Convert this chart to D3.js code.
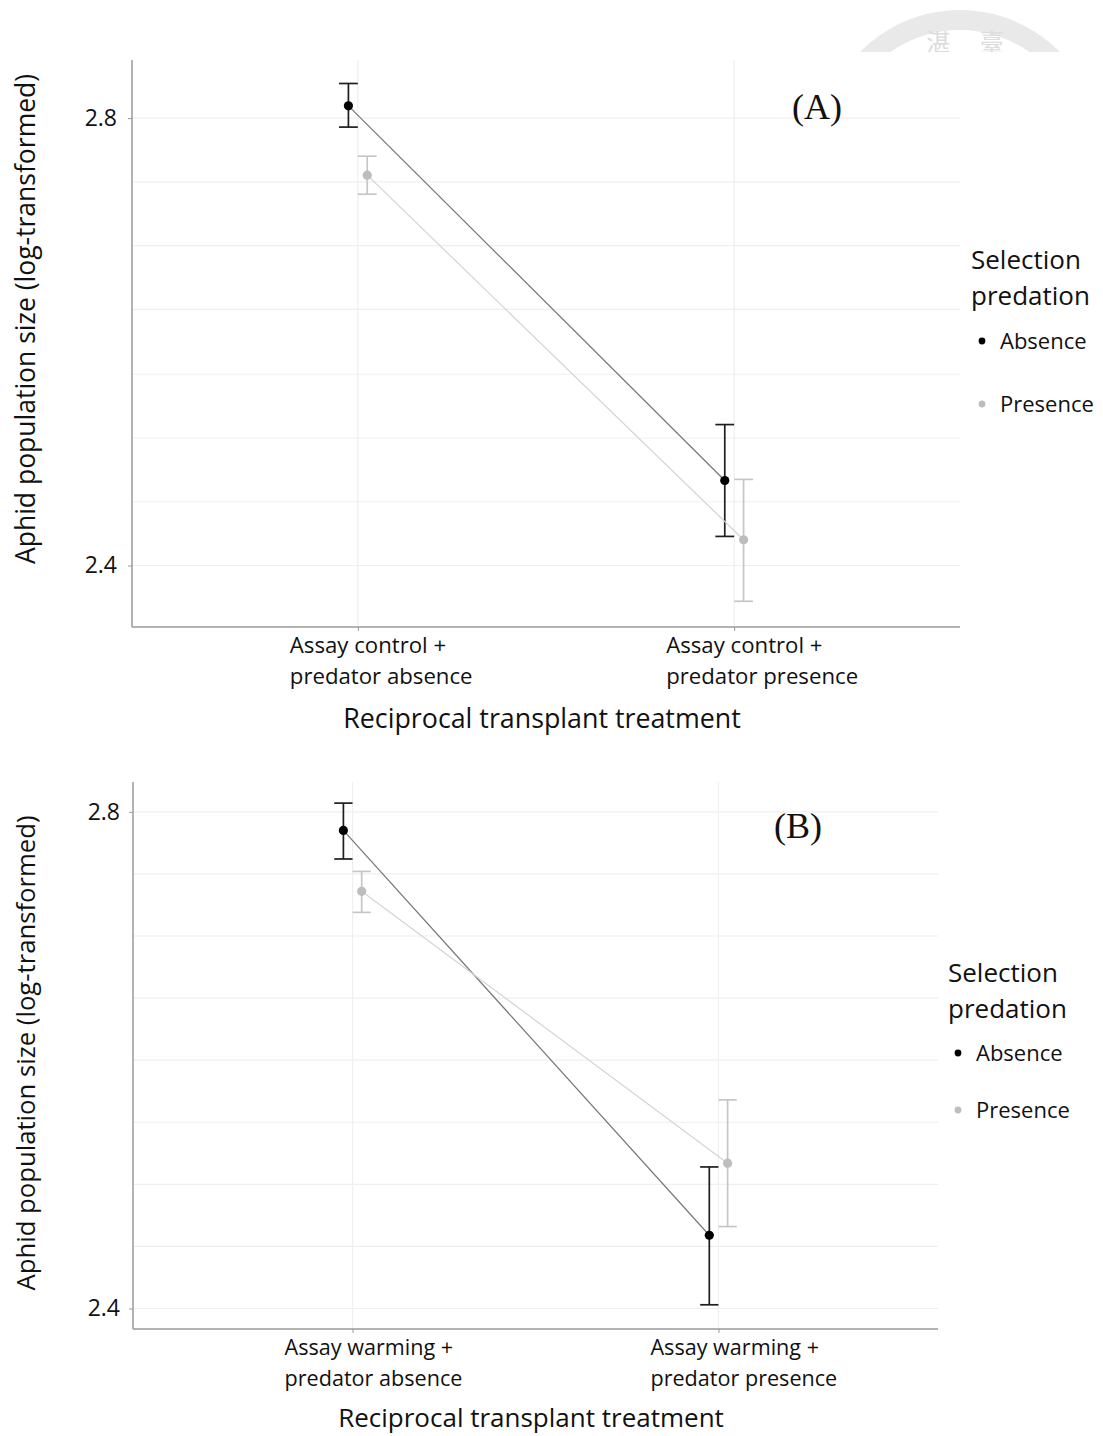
<!DOCTYPE html>
<html>
<head>
<meta charset="utf-8">
<script src="https://cdn.jsdelivr.net/npm/d3@7"></script>
<style>
  body { margin: 0; background: #fff; }
  svg { display: block; }
  text { font-family: "Open Sans", Lato, sans-serif; fill: #111; }
</style>
</head>
<body>
<svg id="chart" width="1103" height="1436"></svg>
<script>
// ---- data ----
var groups = ["Absence", "Presence"]

var catsA = ["Assay control + predator absence", "Assay control + predator presence"]
var catLinesA = [["Assay control +", "predator absence"], ["Assay control +", "predator presence"]]
var catsB = ["Assay warming + predator absence", "Assay warming + predator presence"]
var catLinesB = [["Assay warming +", "predator absence"], ["Assay warming +", "predator presence"]]

// panel A
var meanA_abs = [2.811, 2.476]
var lowA_abs = [2.792, 2.426]
var highA_abs = [2.831, 2.526]
var meanA_pres = [2.749, 2.423]
var lowA_pres = [2.732, 2.368]
var highA_pres = [2.766, 2.477]

// panel B
var meanB_abs = [2.785, 2.459]
var lowB_abs = [2.762, 2.403]
var highB_abs = [2.807, 2.514]
var meanB_pres = [2.736, 2.517]
var lowB_pres = [2.719, 2.466]
var highB_pres = [2.752, 2.568]

var yTicks = [2.4, 2.8]
var gridA = [2.4, 2.457, 2.514, 2.571, 2.629, 2.686, 2.743, 2.8]
var gridB = [2.4, 2.45, 2.5, 2.55, 2.6, 2.65, 2.7, 2.75, 2.8]
var domainA = [2.345, 2.852]
var domainB = [2.3835, 2.824]

var yTitle = "Aphid population size (log-transformed)"
var xTitle = "Reciprocal transplant treatment"
var legendTitle = ["Selection", "predation"]

var colors = { Absence: "#000000", Presence: "#bdbdbd" }
var barColors = { Absence: "#1e1e1e", Presence: "#c6c6c6" }
var lineColors = { Absence: "#767676", Presence: "#d4d4d4" }

var svg = d3.select("#chart")

// faint watermark at the top right (cut off at the panel top)
svg.append("clipPath").attr("id", "wmclip")
  .append("rect").attr("x", 800).attr("y", 0).attr("width", 303).attr("height", 52)
var wm = svg.append("g").attr("clip-path", "url(#wmclip)")
wm.append("path")
  .attr("d", d3.arc()({ innerRadius: 120, outerRadius: 140, startAngle: -1.25, endAngle: 1.25 }))
  .attr("transform", "translate(960,150)")
  .attr("fill", "#e9e9e9")
wm.append("text")
  .attr("x", 965).attr("y", 51)
  .attr("text-anchor", "middle")
  .style("font-family", "'Noto Sans CJK TC', sans-serif")
  .style("font-size", "24px")
  .style("fill", "#dcdcdc")
  .text("湛　 臺")

function drawPanel(p) {
  var g = svg.append("g")

  var x = d3.scalePoint().domain(p.cats).range([p.left, p.right]).padding(0.6)
  var y = d3.scaleLinear().domain(p.domain).range([p.bottom, p.top])
  var step = x.step()
  var dodge = { Absence: -0.025 * step, Presence: 0.025 * step }
  var cap = 0.025 * step

  // grid
  g.selectAll(".hgrid").data(p.grid).enter().append("line")
    .attr("x1", p.left).attr("x2", p.right)
    .attr("y1", function(d) { return y(d) }).attr("y2", function(d) { return y(d) })
    .attr("stroke", "#efefef").attr("stroke-width", 1.2)
  g.selectAll(".vgrid").data(p.cats).enter().append("line")
    .attr("x1", function(d) { return x(d) }).attr("x2", function(d) { return x(d) })
    .attr("y1", p.top).attr("y2", p.bottom)
    .attr("stroke", "#efefef").attr("stroke-width", 1.2)

  // axes
  var yAxis = d3.axisLeft(y).tickValues(yTicks).tickSize(4).tickPadding(p.tickPad).tickFormat(d3.format(".1f"))
  var ya = g.append("g").attr("transform", "translate(" + p.left + ",0)").call(yAxis)
  ya.select(".domain").remove()
  ya.selectAll(".tick line").attr("stroke", "#999")
  ya.selectAll(".tick text").style("font-size", "23px").style("font-family", "'Open Sans', sans-serif").attr("fill", "#111")

  var xAxis = d3.axisBottom(x).tickSize(4).tickFormat("")
  var xa = g.append("g").attr("transform", "translate(0," + p.bottom + ")").call(xAxis)
  xa.select(".domain").remove()
  xa.selectAll(".tick line").attr("stroke", "#999")

  g.append("line").attr("x1", p.left).attr("x2", p.left).attr("y1", p.top).attr("y2", p.bottom)
    .attr("stroke", "#9a9a9a").attr("stroke-width", 1.5)
  g.append("line").attr("x1", p.left).attr("x2", p.right).attr("y1", p.bottom).attr("y2", p.bottom)
    .attr("stroke", "#9a9a9a").attr("stroke-width", 1.5)

  // category labels (two lines, left aligned)
  p.cats.forEach(function(c, i) {
    var t = g.append("text")
      .attr("x", x(c) - 68)
      .attr("y", p.bottom + 26)
      .style("font-size", p.catSize + "px")
    p.catLines[i].forEach(function(line, j) {
      t.append("tspan").attr("x", x(c) - 68).attr("dy", j == 0 ? 0 : 31).text(line)
    })
  })

  // titles
  g.append("text")
    .attr("x", p.xTitleX).attr("y", p.bottom + p.xTitleDy)
    .attr("text-anchor", "middle")
    .style("font-size", p.xTitleSize + "px")
    .text(xTitle)
  g.append("text")
    .attr("transform", "translate(35," + p.yTitleY + ") rotate(-90)")
    .attr("text-anchor", "middle")
    .style("font-size", p.yTitleSize + "px")
    .text(yTitle)

  // series
  p.series.forEach(function(s) {
    var pts = p.cats.map(function(c, i) {
      return { x: x(c) + dodge[s.group], m: s.mean[i], lo: s.low[i], hi: s.high[i] }
    })
    g.append("path")
      .datum(pts)
      .attr("fill", "none")
      .attr("stroke", lineColors[s.group])
      .attr("stroke-width", 1.2)
      .attr("d", d3.line().x(function(d) { return d.x }).y(function(d) { return y(d.m) }))

    var eb = g.selectAll(".eb-" + s.group).data(pts).enter().append("g")
    eb.append("line")
      .attr("x1", function(d) { return d.x }).attr("x2", function(d) { return d.x })
      .attr("y1", function(d) { return y(d.lo) }).attr("y2", function(d) { return y(d.hi) })
      .attr("stroke", barColors[s.group]).attr("stroke-width", 1.7)
    eb.append("line")
      .attr("x1", function(d) { return d.x - cap }).attr("x2", function(d) { return d.x + cap })
      .attr("y1", function(d) { return y(d.lo) }).attr("y2", function(d) { return y(d.lo) })
      .attr("stroke", barColors[s.group]).attr("stroke-width", 1.7)
    eb.append("line")
      .attr("x1", function(d) { return d.x - cap }).attr("x2", function(d) { return d.x + cap })
      .attr("y1", function(d) { return y(d.hi) }).attr("y2", function(d) { return y(d.hi) })
      .attr("stroke", barColors[s.group]).attr("stroke-width", 1.7)
    eb.append("circle")
      .attr("cx", function(d) { return d.x }).attr("cy", function(d) { return y(d.m) })
      .attr("r", 4.6)
      .attr("fill", colors[s.group])
  })

  // panel tag
  g.append("text")
    .attr("x", p.tagX).attr("y", p.tagY)
    .style("font-family", "'Liberation Serif', 'DejaVu Serif', serif")
    .style("font-size", "36px")
    .text(p.tag)

  // legend
  var lg = g.append("g")
  legendTitle.forEach(function(t, i) {
    lg.append("text")
      .attr("x", p.legX).attr("y", p.legY + i * 36)
      .style("font-size", "26px")
      .text(t)
  })
  groups.forEach(function(gr, i) {
    var cy = p.legY + p.legItemY[i]
    lg.append("path")
      .attr("d", d3.symbol().type(d3.symbolCircle).size(36)())
      .attr("transform", "translate(" + (p.legX + p.legDot) + "," + cy + ")")
      .attr("fill", colors[gr])
    lg.append("text")
      .attr("x", p.legX + p.legText).attr("y", cy + 8)
      .style("font-size", "22px")
      .text(gr)
  })
}

drawPanel({
  cats: catsA, catLines: catLinesA, catSize: 22.2,
  left: 132, right: 960, top: 60, bottom: 627,
  domain: domainA, grid: gridA, tickPad: 11,
  xTitleX: 542, xTitleDy: 101, xTitleSize: 26.8,
  yTitleY: 319, yTitleSize: 26.5,
  tag: "(A)", tagX: 792, tagY: 119,
  legX: 971, legY: 269, legDot: 11, legText: 29, legItemY: [72, 135],
  series: [
    { group: "Absence", mean: meanA_abs, low: lowA_abs, high: highA_abs },
    { group: "Presence", mean: meanA_pres, low: lowA_pres, high: highA_pres }
  ]
})

drawPanel({
  cats: catsB, catLines: catLinesB, catSize: 21.6,
  left: 133, right: 938, top: 782, bottom: 1329,
  domain: domainB, grid: gridB, tickPad: 9,
  xTitleX: 531, xTitleDy: 98, xTitleSize: 26,
  yTitleY: 1053, yTitleSize: 25.7,
  tag: "(B)", tagX: 774, tagY: 838,
  legX: 948, legY: 982, legDot: 10, legText: 28, legItemY: [71, 128],
  series: [
    { group: "Absence", mean: meanB_abs, low: lowB_abs, high: highB_abs },
    { group: "Presence", mean: meanB_pres, low: lowB_pres, high: highB_pres }
  ]
})
</script>
</body>
</html>
